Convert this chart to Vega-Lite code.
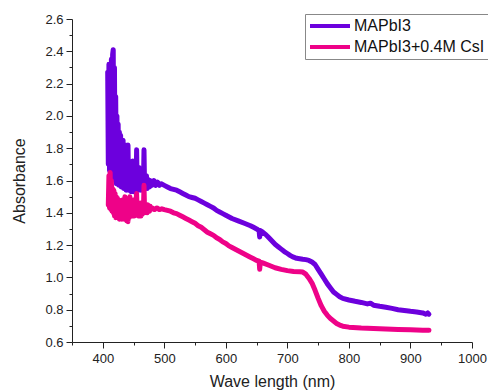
{
  "$schema": "https://vega.github.io/schema/vega-lite/v6.json",
  "width": 400,
  "height": 323,
  "autosize": "none",
  "padding": {"left": 72, "top": 19, "right": 16, "bottom": 50},
  "background": "white",
  "config": {
    "view": {"stroke": null},
    "font": "Liberation Sans",
    "axis": {"grid": false, "domainColor": "#222", "tickColor": "#222", "labelColor": "#222", "titleColor": "#222", "labelFont": "Liberation Sans", "titleFont": "Liberation Sans", "labelFontSize": 13, "titleFontSize": 16, "titleFontWeight": "normal"}
  },
  "data": {"values": [
    {"w":408,"a":2.27,"s":"MAPbI3"},{"w":409,"a":1.70,"s":"MAPbI3"},{"w":410,"a":2.32,"s":"MAPbI3"},{"w":411,"a":1.66,"s":"MAPbI3"},{"w":412,"a":2.20,"s":"MAPbI3"},{"w":413,"a":1.64,"s":"MAPbI3"},{"w":414,"a":2.35,"s":"MAPbI3"},{"w":415,"a":1.62,"s":"MAPbI3"},{"w":416,"a":2.38,"s":"MAPbI3"},{"w":417,"a":2.41,"s":"MAPbI3"},{"w":418,"a":1.62,"s":"MAPbI3"},{"w":419,"a":2.30,"s":"MAPbI3"},{"w":420,"a":1.60,"s":"MAPbI3"},{"w":421,"a":2.12,"s":"MAPbI3"},{"w":422,"a":1.58,"s":"MAPbI3"},{"w":423,"a":2.00,"s":"MAPbI3"},{"w":424,"a":1.62,"s":"MAPbI3"},{"w":425,"a":1.95,"s":"MAPbI3"},{"w":426,"a":1.57,"s":"MAPbI3"},{"w":427,"a":1.90,"s":"MAPbI3"},{"w":428,"a":1.60,"s":"MAPbI3"},{"w":429,"a":1.88,"s":"MAPbI3"},{"w":430,"a":1.56,"s":"MAPbI3"},{"w":431,"a":1.82,"s":"MAPbI3"},{"w":432,"a":1.62,"s":"MAPbI3"},{"w":433,"a":1.85,"s":"MAPbI3"},{"w":434,"a":1.55,"s":"MAPbI3"},{"w":435,"a":1.78,"s":"MAPbI3"},{"w":436,"a":1.60,"s":"MAPbI3"},{"w":437,"a":1.82,"s":"MAPbI3"},{"w":438,"a":1.54,"s":"MAPbI3"},{"w":439,"a":1.75,"s":"MAPbI3"},{"w":440,"a":1.58,"s":"MAPbI3"},{"w":441,"a":1.82,"s":"MAPbI3"},{"w":442,"a":1.54,"s":"MAPbI3"},{"w":443,"a":1.72,"s":"MAPbI3"},{"w":444,"a":1.57,"s":"MAPbI3"},{"w":445,"a":1.70,"s":"MAPbI3"},{"w":446,"a":1.53,"s":"MAPbI3"},{"w":447,"a":1.68,"s":"MAPbI3"},{"w":448,"a":1.57,"s":"MAPbI3"},{"w":449,"a":1.72,"s":"MAPbI3"},{"w":450,"a":1.53,"s":"MAPbI3"},{"w":451,"a":1.66,"s":"MAPbI3"},{"w":452,"a":1.56,"s":"MAPbI3"},{"w":453,"a":1.70,"s":"MAPbI3"},{"w":454,"a":1.54,"s":"MAPbI3"},{"w":455,"a":1.79,"s":"MAPbI3"},{"w":456,"a":1.55,"s":"MAPbI3"},{"w":457,"a":1.66,"s":"MAPbI3"},{"w":458,"a":1.54,"s":"MAPbI3"},{"w":459,"a":1.68,"s":"MAPbI3"},{"w":460,"a":1.56,"s":"MAPbI3"},{"w":461,"a":1.64,"s":"MAPbI3"},{"w":462,"a":1.54,"s":"MAPbI3"},{"w":463,"a":1.66,"s":"MAPbI3"},{"w":464,"a":1.55,"s":"MAPbI3"},{"w":465,"a":1.63,"s":"MAPbI3"},{"w":466,"a":1.56,"s":"MAPbI3"},{"w":467,"a":1.79,"s":"MAPbI3"},{"w":468,"a":1.55,"s":"MAPbI3"},{"w":469,"a":1.62,"s":"MAPbI3"},{"w":470,"a":1.56,"s":"MAPbI3"},{"w":471,"a":1.63,"s":"MAPbI3"},{"w":472,"a":1.55,"s":"MAPbI3"},{"w":473,"a":1.61,"s":"MAPbI3"},{"w":474,"a":1.56,"s":"MAPbI3"},{"w":475,"a":1.60,"s":"MAPbI3"},{"w":476,"a":1.56,"s":"MAPbI3"},{"w":477,"a":1.60,"s":"MAPbI3"},{"w":478,"a":1.57,"s":"MAPbI3"},{"w":479,"a":1.59,"s":"MAPbI3"},{"w":480,"a":1.57,"s":"MAPbI3"},{"w":483,"a":1.60,"s":"MAPbI3"},{"w":486,"a":1.57,"s":"MAPbI3"},{"w":489,"a":1.59,"s":"MAPbI3"},{"w":492,"a":1.57,"s":"MAPbI3"},{"w":495,"a":1.58,"s":"MAPbI3"},{"w":500,"a":1.57,"s":"MAPbI3"},
    {"w":505,"a":1.56,"s":"MAPbI3"},{"w":510,"a":1.55,"s":"MAPbI3"},{"w":515,"a":1.545,"s":"MAPbI3"},{"w":520,"a":1.54,"s":"MAPbI3"},{"w":525,"a":1.53,"s":"MAPbI3"},{"w":530,"a":1.52,"s":"MAPbI3"},{"w":535,"a":1.51,"s":"MAPbI3"},{"w":540,"a":1.50,"s":"MAPbI3"},{"w":545,"a":1.495,"s":"MAPbI3"},{"w":550,"a":1.49,"s":"MAPbI3"},{"w":555,"a":1.48,"s":"MAPbI3"},{"w":560,"a":1.47,"s":"MAPbI3"},{"w":565,"a":1.46,"s":"MAPbI3"},{"w":570,"a":1.45,"s":"MAPbI3"},{"w":575,"a":1.44,"s":"MAPbI3"},{"w":580,"a":1.43,"s":"MAPbI3"},{"w":585,"a":1.415,"s":"MAPbI3"},{"w":590,"a":1.405,"s":"MAPbI3"},{"w":595,"a":1.395,"s":"MAPbI3"},{"w":600,"a":1.385,"s":"MAPbI3"},{"w":610,"a":1.365,"s":"MAPbI3"},{"w":620,"a":1.35,"s":"MAPbI3"},{"w":630,"a":1.335,"s":"MAPbI3"},{"w":640,"a":1.32,"s":"MAPbI3"},{"w":645,"a":1.31,"s":"MAPbI3"},{"w":650,"a":1.30,"s":"MAPbI3"},{"w":654,"a":1.29,"s":"MAPbI3"},{"w":655,"a":1.25,"s":"MAPbI3"},{"w":656,"a":1.29,"s":"MAPbI3"},{"w":660,"a":1.28,"s":"MAPbI3"},{"w":665,"a":1.265,"s":"MAPbI3"},{"w":670,"a":1.245,"s":"MAPbI3"},{"w":675,"a":1.225,"s":"MAPbI3"},{"w":680,"a":1.205,"s":"MAPbI3"},{"w":685,"a":1.19,"s":"MAPbI3"},{"w":690,"a":1.175,"s":"MAPbI3"},{"w":695,"a":1.16,"s":"MAPbI3"},{"w":700,"a":1.148,"s":"MAPbI3"},{"w":705,"a":1.135,"s":"MAPbI3"},{"w":710,"a":1.125,"s":"MAPbI3"},{"w":715,"a":1.118,"s":"MAPbI3"},{"w":720,"a":1.115,"s":"MAPbI3"},{"w":725,"a":1.112,"s":"MAPbI3"},{"w":730,"a":1.11,"s":"MAPbI3"},{"w":735,"a":1.105,"s":"MAPbI3"},{"w":740,"a":1.095,"s":"MAPbI3"},{"w":745,"a":1.08,"s":"MAPbI3"},{"w":750,"a":1.05,"s":"MAPbI3"},{"w":755,"a":1.02,"s":"MAPbI3"},{"w":760,"a":0.99,"s":"MAPbI3"},{"w":765,"a":0.96,"s":"MAPbI3"},{"w":770,"a":0.935,"s":"MAPbI3"},{"w":775,"a":0.91,"s":"MAPbI3"},{"w":780,"a":0.895,"s":"MAPbI3"},{"w":785,"a":0.88,"s":"MAPbI3"},{"w":790,"a":0.87,"s":"MAPbI3"},{"w":800,"a":0.86,"s":"MAPbI3"},{"w":810,"a":0.852,"s":"MAPbI3"},{"w":820,"a":0.845,"s":"MAPbI3"},{"w":830,"a":0.836,"s":"MAPbI3"},{"w":835,"a":0.84,"s":"MAPbI3"},{"w":840,"a":0.828,"s":"MAPbI3"},{"w":850,"a":0.821,"s":"MAPbI3"},{"w":860,"a":0.815,"s":"MAPbI3"},{"w":870,"a":0.808,"s":"MAPbI3"},{"w":880,"a":0.80,"s":"MAPbI3"},{"w":890,"a":0.795,"s":"MAPbI3"},{"w":900,"a":0.79,"s":"MAPbI3"},{"w":910,"a":0.786,"s":"MAPbI3"},{"w":920,"a":0.78,"s":"MAPbI3"},{"w":925,"a":0.772,"s":"MAPbI3"},{"w":928,"a":0.78,"s":"MAPbI3"},{"w":930,"a":0.772,"s":"MAPbI3"},
    {"w":409,"a":1.45,"s":"MAPbI3+0.4M CsI"},{"w":410,"a":1.63,"s":"MAPbI3+0.4M CsI"},{"w":411,"a":1.43,"s":"MAPbI3+0.4M CsI"},{"w":412,"a":1.65,"s":"MAPbI3+0.4M CsI"},{"w":413,"a":1.42,"s":"MAPbI3+0.4M CsI"},{"w":414,"a":1.60,"s":"MAPbI3+0.4M CsI"},{"w":415,"a":1.41,"s":"MAPbI3+0.4M CsI"},{"w":416,"a":1.55,"s":"MAPbI3+0.4M CsI"},{"w":417,"a":1.40,"s":"MAPbI3+0.4M CsI"},{"w":418,"a":1.54,"s":"MAPbI3+0.4M CsI"},{"w":419,"a":1.38,"s":"MAPbI3+0.4M CsI"},{"w":420,"a":1.52,"s":"MAPbI3+0.4M CsI"},{"w":421,"a":1.37,"s":"MAPbI3+0.4M CsI"},{"w":422,"a":1.50,"s":"MAPbI3+0.4M CsI"},{"w":423,"a":1.38,"s":"MAPbI3+0.4M CsI"},{"w":424,"a":1.49,"s":"MAPbI3+0.4M CsI"},{"w":425,"a":1.37,"s":"MAPbI3+0.4M CsI"},{"w":426,"a":1.48,"s":"MAPbI3+0.4M CsI"},{"w":427,"a":1.36,"s":"MAPbI3+0.4M CsI"},{"w":428,"a":1.47,"s":"MAPbI3+0.4M CsI"},{"w":429,"a":1.37,"s":"MAPbI3+0.4M CsI"},{"w":430,"a":1.46,"s":"MAPbI3+0.4M CsI"},{"w":431,"a":1.36,"s":"MAPbI3+0.4M CsI"},{"w":432,"a":1.48,"s":"MAPbI3+0.4M CsI"},{"w":433,"a":1.37,"s":"MAPbI3+0.4M CsI"},{"w":434,"a":1.46,"s":"MAPbI3+0.4M CsI"},{"w":435,"a":1.36,"s":"MAPbI3+0.4M CsI"},{"w":436,"a":1.50,"s":"MAPbI3+0.4M CsI"},{"w":437,"a":1.37,"s":"MAPbI3+0.4M CsI"},{"w":438,"a":1.47,"s":"MAPbI3+0.4M CsI"},{"w":439,"a":1.35,"s":"MAPbI3+0.4M CsI"},{"w":440,"a":1.46,"s":"MAPbI3+0.4M CsI"},{"w":441,"a":1.345,"s":"MAPbI3+0.4M CsI"},{"w":442,"a":1.49,"s":"MAPbI3+0.4M CsI"},{"w":443,"a":1.37,"s":"MAPbI3+0.4M CsI"},{"w":444,"a":1.50,"s":"MAPbI3+0.4M CsI"},{"w":445,"a":1.38,"s":"MAPbI3+0.4M CsI"},{"w":446,"a":1.47,"s":"MAPbI3+0.4M CsI"},{"w":447,"a":1.38,"s":"MAPbI3+0.4M CsI"},{"w":448,"a":1.46,"s":"MAPbI3+0.4M CsI"},{"w":449,"a":1.39,"s":"MAPbI3+0.4M CsI"},{"w":450,"a":1.48,"s":"MAPbI3+0.4M CsI"},{"w":451,"a":1.38,"s":"MAPbI3+0.4M CsI"},{"w":452,"a":1.46,"s":"MAPbI3+0.4M CsI"},{"w":453,"a":1.39,"s":"MAPbI3+0.4M CsI"},{"w":454,"a":1.47,"s":"MAPbI3+0.4M CsI"},{"w":455,"a":1.52,"s":"MAPbI3+0.4M CsI"},{"w":456,"a":1.39,"s":"MAPbI3+0.4M CsI"},{"w":457,"a":1.46,"s":"MAPbI3+0.4M CsI"},{"w":458,"a":1.38,"s":"MAPbI3+0.4M CsI"},{"w":459,"a":1.45,"s":"MAPbI3+0.4M CsI"},{"w":460,"a":1.39,"s":"MAPbI3+0.4M CsI"},{"w":461,"a":1.46,"s":"MAPbI3+0.4M CsI"},{"w":462,"a":1.38,"s":"MAPbI3+0.4M CsI"},{"w":463,"a":1.45,"s":"MAPbI3+0.4M CsI"},{"w":464,"a":1.39,"s":"MAPbI3+0.4M CsI"},{"w":465,"a":1.46,"s":"MAPbI3+0.4M CsI"},{"w":466,"a":1.40,"s":"MAPbI3+0.4M CsI"},{"w":467,"a":1.57,"s":"MAPbI3+0.4M CsI"},{"w":468,"a":1.40,"s":"MAPbI3+0.4M CsI"},{"w":469,"a":1.45,"s":"MAPbI3+0.4M CsI"},{"w":470,"a":1.41,"s":"MAPbI3+0.4M CsI"},{"w":471,"a":1.45,"s":"MAPbI3+0.4M CsI"},{"w":472,"a":1.40,"s":"MAPbI3+0.4M CsI"},{"w":473,"a":1.45,"s":"MAPbI3+0.4M CsI"},{"w":474,"a":1.41,"s":"MAPbI3+0.4M CsI"},{"w":475,"a":1.44,"s":"MAPbI3+0.4M CsI"},{"w":476,"a":1.41,"s":"MAPbI3+0.4M CsI"},{"w":477,"a":1.44,"s":"MAPbI3+0.4M CsI"},{"w":478,"a":1.42,"s":"MAPbI3+0.4M CsI"},{"w":480,"a":1.43,"s":"MAPbI3+0.4M CsI"},{"w":484,"a":1.42,"s":"MAPbI3+0.4M CsI"},{"w":488,"a":1.43,"s":"MAPbI3+0.4M CsI"},{"w":492,"a":1.42,"s":"MAPbI3+0.4M CsI"},{"w":496,"a":1.425,"s":"MAPbI3+0.4M CsI"},{"w":500,"a":1.42,"s":"MAPbI3+0.4M CsI"},
    {"w":505,"a":1.415,"s":"MAPbI3+0.4M CsI"},{"w":510,"a":1.41,"s":"MAPbI3+0.4M CsI"},{"w":515,"a":1.40,"s":"MAPbI3+0.4M CsI"},{"w":520,"a":1.395,"s":"MAPbI3+0.4M CsI"},{"w":525,"a":1.385,"s":"MAPbI3+0.4M CsI"},{"w":530,"a":1.375,"s":"MAPbI3+0.4M CsI"},{"w":535,"a":1.365,"s":"MAPbI3+0.4M CsI"},{"w":540,"a":1.355,"s":"MAPbI3+0.4M CsI"},{"w":545,"a":1.345,"s":"MAPbI3+0.4M CsI"},{"w":550,"a":1.335,"s":"MAPbI3+0.4M CsI"},{"w":555,"a":1.32,"s":"MAPbI3+0.4M CsI"},{"w":560,"a":1.31,"s":"MAPbI3+0.4M CsI"},{"w":565,"a":1.295,"s":"MAPbI3+0.4M CsI"},{"w":570,"a":1.28,"s":"MAPbI3+0.4M CsI"},{"w":575,"a":1.27,"s":"MAPbI3+0.4M CsI"},{"w":580,"a":1.26,"s":"MAPbI3+0.4M CsI"},{"w":585,"a":1.245,"s":"MAPbI3+0.4M CsI"},{"w":590,"a":1.235,"s":"MAPbI3+0.4M CsI"},{"w":595,"a":1.22,"s":"MAPbI3+0.4M CsI"},{"w":600,"a":1.21,"s":"MAPbI3+0.4M CsI"},{"w":605,"a":1.195,"s":"MAPbI3+0.4M CsI"},{"w":610,"a":1.185,"s":"MAPbI3+0.4M CsI"},{"w":620,"a":1.165,"s":"MAPbI3+0.4M CsI"},{"w":630,"a":1.145,"s":"MAPbI3+0.4M CsI"},{"w":640,"a":1.125,"s":"MAPbI3+0.4M CsI"},{"w":645,"a":1.115,"s":"MAPbI3+0.4M CsI"},{"w":650,"a":1.105,"s":"MAPbI3+0.4M CsI"},{"w":654,"a":1.10,"s":"MAPbI3+0.4M CsI"},{"w":655,"a":1.05,"s":"MAPbI3+0.4M CsI"},{"w":656,"a":1.095,"s":"MAPbI3+0.4M CsI"},{"w":660,"a":1.09,"s":"MAPbI3+0.4M CsI"},{"w":670,"a":1.075,"s":"MAPbI3+0.4M CsI"},{"w":680,"a":1.06,"s":"MAPbI3+0.4M CsI"},{"w":690,"a":1.05,"s":"MAPbI3+0.4M CsI"},{"w":700,"a":1.042,"s":"MAPbI3+0.4M CsI"},{"w":710,"a":1.037,"s":"MAPbI3+0.4M CsI"},{"w":720,"a":1.035,"s":"MAPbI3+0.4M CsI"},{"w":725,"a":1.033,"s":"MAPbI3+0.4M CsI"},{"w":730,"a":1.02,"s":"MAPbI3+0.4M CsI"},{"w":735,"a":0.995,"s":"MAPbI3+0.4M CsI"},{"w":740,"a":0.965,"s":"MAPbI3+0.4M CsI"},{"w":745,"a":0.92,"s":"MAPbI3+0.4M CsI"},{"w":750,"a":0.87,"s":"MAPbI3+0.4M CsI"},{"w":755,"a":0.825,"s":"MAPbI3+0.4M CsI"},{"w":760,"a":0.79,"s":"MAPbI3+0.4M CsI"},{"w":765,"a":0.765,"s":"MAPbI3+0.4M CsI"},{"w":770,"a":0.745,"s":"MAPbI3+0.4M CsI"},{"w":775,"a":0.73,"s":"MAPbI3+0.4M CsI"},{"w":780,"a":0.715,"s":"MAPbI3+0.4M CsI"},{"w":785,"a":0.705,"s":"MAPbI3+0.4M CsI"},{"w":790,"a":0.698,"s":"MAPbI3+0.4M CsI"},{"w":800,"a":0.692,"s":"MAPbI3+0.4M CsI"},{"w":820,"a":0.686,"s":"MAPbI3+0.4M CsI"},{"w":840,"a":0.683,"s":"MAPbI3+0.4M CsI"},{"w":860,"a":0.68,"s":"MAPbI3+0.4M CsI"},{"w":880,"a":0.678,"s":"MAPbI3+0.4M CsI"},{"w":900,"a":0.676,"s":"MAPbI3+0.4M CsI"},{"w":920,"a":0.673,"s":"MAPbI3+0.4M CsI"},{"w":930,"a":0.672,"s":"MAPbI3+0.4M CsI"}
  ]},
  "mark": {"type": "line", "strokeWidth": 5, "strokeJoin": "round", "strokeCap": "round"},
  "encoding": {
    "x": {"field": "w", "type": "quantitative", "title": "Wave length (nm)",
      "scale": {"domain": [350, 1000], "nice": false, "zero": false},
      "axis": {"values": [350,400,450,500,550,600,650,700,750,800,850,900,950,1000],
        "format": "d",
        "labelExpr": "datum.value % 100 === 0 ? datum.label : ''",
        "tickSize": {"condition": {"test": "datum.value % 100 === 0", "value": 6}, "value": 3},
        "labelPadding": 4, "titlePadding": 8, "labelFlush": false, "labelOverlap": false}},
    "y": {"field": "a", "type": "quantitative", "title": "Absorbance",
      "scale": {"domain": [0.6, 2.6], "nice": false, "zero": false},
      "axis": {"values": [0.6,0.7,0.8,0.9,1.0,1.1,1.2,1.3,1.4,1.5,1.6,1.7,1.8,1.9,2.0,2.1,2.2,2.3,2.4,2.5,2.6],
        "format": ".1f",
        "labelExpr": "round(datum.value * 10) % 2 === 0 ? datum.label : ''",
        "tickSize": {"condition": {"test": "round(datum.value * 10) % 2 === 0", "value": 6}, "value": 3},
        "labelPadding": 3, "titlePadding": 17, "labelFlush": false, "labelOverlap": false}},
    "color": {"field": "s", "type": "nominal", "sort": null,
      "scale": {"domain": ["MAPbI3", "MAPbI3+0.4M CsI"], "range": ["#6C00DD", "#EE0288"]},
      "legend": {"title": null, "orient": "none", "legendX": 233, "legendY": -5,
        "symbolType": "M-1.4,0H6.6", "symbolSize": 100, "symbolStrokeWidth": 4,
        "labelFontSize": 16, "labelFont": "Liberation Sans", "labelColor": "#111", "labelOffset": 29,
        "strokeColor": "#888", "fillColor": "white", "padding": 4, "rowPadding": 5}}
  }
}
